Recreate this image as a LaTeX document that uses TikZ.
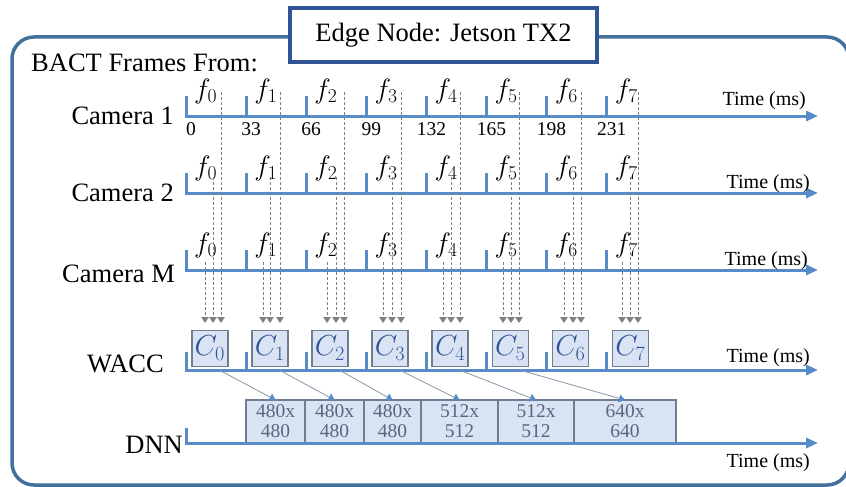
\RequirePackage{fix-cm}
\documentclass[tikz,border=0pt]{standalone}
\usepackage{fontspec}
\setmainfont{Liberation Serif}
\usetikzlibrary{arrows.meta, positioning, calc}
\definecolor{axisblue}{RGB}{88,140,200}
\definecolor{frameblue}{RGB}{65,113,156}
\definecolor{titleblue}{RGB}{47,85,151}
\definecolor{cellfill}{RGB}{218,227,243}
\definecolor{celldraw}{RGB}{112,126,146}
\definecolor{cellgrey}{RGB}{88,102,126}
\definecolor{dashgrey}{RGB}{128,128,128}
\definecolor{linkgrey}{RGB}{140,150,166}

\begin{document}
\begin{tikzpicture}[x=1pt, y=-1pt,
  lbl/.style={font=\fontsize{26.5}{30}\selectfont, inner sep=0pt, anchor=base east},
  timelbl/.style={font=\fontsize{20}{24}\selectfont, inner sep=0pt, anchor=base east},
  numlbl/.style={font=\fontsize{19.5}{22}\selectfont, inner sep=0pt, anchor=base},
  flbl/.style={font=\fontsize{28}{32}\selectfont, inner sep=0pt, anchor=base west},
  titlebox/.style={rectangle, draw=titleblue, line width=4pt, fill=white,
                   minimum width=307pt, minimum height=54pt, font=\fontsize{26.5}{30}\selectfont},
  wbox/.style={rectangle, draw=celldraw, line width=1.5pt, fill=cellfill, minimum width=36pt,
               minimum height=36pt, inner sep=0pt, anchor=south west, text=titleblue,
               font=\fontsize{29}{32}\selectfont},
  dbox/.style={rectangle, draw=celldraw, line width=1.2pt, fill=cellfill, minimum height=43pt,
               inner sep=0pt, outer sep=0pt, align=center, text=cellgrey,
               font=\fontsize{19.5}{20}\selectfont},
  frame/.style={draw=frameblue, line width=3.5pt, rounded corners=22pt},
  axis/.style={-{Triangle[length=12pt, width=10pt]}, line width=3pt, axisblue},
  tickmark/.style={line width=3pt, axisblue},
  darr/.style={-{Triangle[length=6pt, width=7.5pt]}, dashgrey, line width=0.8pt, dash pattern=on 3pt off 2pt},
  link/.style={-{Triangle[length=6pt, width=8pt, color=axisblue]}, linkgrey, line width=0.8pt}
]
  \useasboundingbox (0,0) rectangle (846,487);
  \fill[white] (0,0) rectangle (846,487);
  \draw[frame] (12,37) rectangle (849,485);
  \node[titlebox] (title) at (443.5,35) {Edge Node: Jetson TX2};
  \node[lbl, anchor=base west] (bact) at (31,71) {BACT Frames From:};

  % camera rows
  \node[lbl] (cam1) at (174,124) {Camera 1};
  \node[lbl] (cam2) at (174,201) {Camera 2};
  \node[lbl] (camM) at (175,282) {Camera M};
  \foreach \r/\ay in {1/116, 2/193, M/270} {
    \coordinate (ax\r) at (186,\ay);
    \draw[axis] (ax\r) -- ++(632,0);
    \foreach \i in {0,...,7} {
      \draw[tickmark] ($(ax\r)+(60.1*\i,1.5)$) -- ++(0,-21.5);
      \node[flbl] (f\r\i) at ($(ax\r)+(8+60.1*\i,-18)$) {$f_{\i}$};
    }
  }
  \foreach \i/\t in {0/0, 1/33, 2/66, 3/99, 4/132, 5/165, 6/198, 7/231}
    \node[numlbl] (n\i) at ($(ax1)+(5+60.1*\i,19)$) {\t};
  \node[timelbl] (time1) at (806,106) {Time (ms)};
  \node[timelbl] (time2) at (810,188) {Time (ms)};
  \node[timelbl] (timeM) at (808,265) {Time (ms)};

  % frames sent to WACC
  \foreach \i/\xa/\xb/\xm in {0/221/213/205, 1/280/270/263, 2/344/336/327, 3/401/392/383,
                              4/460/451/443, 5/519/511/503, 6/581/573/564, 7/638/630/622} {
    \coordinate (s1\i) at (\xa,92);  \coordinate (e1\i) at (\xa,323);
    \coordinate (s2\i) at (\xb,177); \coordinate (e2\i) at (\xb,323);
    \coordinate (sM\i) at (\xm,262); \coordinate (eM\i) at (\xm,323);
    \draw[darr] (s1\i) -- (e1\i);
    \draw[darr] (s2\i) -- (e2\i);
    \draw[darr] (sM\i) -- (eM\i);
  }

  % WACC row
  \node[lbl] (wacc) at (164,372) {WACC};
  \coordinate (axW) at (186,370);
  \draw[axis] (axW) -- ++(632,0);
  \foreach \i in {0,...,7} {
    \draw[tickmark] ($(axW)+(60.1*\i,1.5)$) -- ++(0,-19.5);
    \node[wbox] (c\i) at ($(axW)+(5+60.1*\i,-3)$) {$C_{\i}$};
  }
  \node[timelbl] (timeW) at (810,362) {Time (ms)};

  % DNN row
  \node[lbl] (dnn) at (183,453) {DNN};
  \coordinate (axD) at (186,443);
  \node[dbox, minimum width=59pt, anchor=south west] (d1) at (246,443) {480x\\480};
  \node[dbox, minimum width=59pt, right=0pt of d1] (d2) {480x\\480};
  \node[dbox, minimum width=57pt, right=0pt of d2] (d3) {480x\\480};
  \node[dbox, minimum width=77pt, right=0pt of d3] (d4) {512x\\512};
  \node[dbox, minimum width=76pt, right=0pt of d4] (d5) {512x\\512};
  \node[dbox, minimum width=102pt, right=0pt of d5] (d6) {640x\\640};
  \draw[tickmark] ($(axD)+(0,1.5)$) -- ++(0,-16.5);
  \draw[axis] (axD) -- ++(632,0);
  \node[timelbl] (timeD) at (810,467) {Time (ms)};

  \foreach \i/\j in {0/1, 1/2, 2/3, 3/4, 4/5, 5/6}
    \draw[link] ($(c\i.south)!0.5!(c\i.south east)+(0,3)$) -- (d\j.north);
\end{tikzpicture}
\end{document}
